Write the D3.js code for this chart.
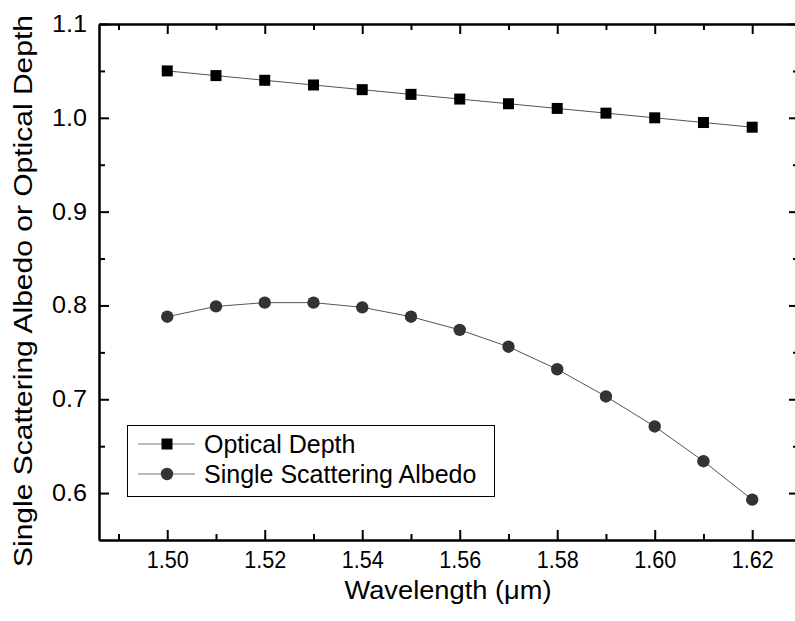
<!DOCTYPE html>
<html>
<head>
<meta charset="utf-8">
<script src="https://cdn.jsdelivr.net/npm/d3@7"></script>
<style>
  body { margin: 0; background: #fff; }
  svg { display: block; font-family: 'Liberation Sans', Arial, sans-serif; }
  .axis path, .axis line { stroke: #000; stroke-width: 2; }
  .axis text { fill: #000; }
</style>
</head>
<body>
<div id="chart"></div>
<script>
// wavelengths (um)
var wavelength = [1.50, 1.51, 1.52, 1.53, 1.54, 1.55, 1.56, 1.57, 1.58, 1.59, 1.60, 1.61, 1.62];
var opticalDepth = [1.050, 1.045, 1.040, 1.035, 1.030, 1.025, 1.020, 1.015, 1.010, 1.005, 1.000, 0.995, 0.990];
var albedo = [0.788, 0.799, 0.803, 0.803, 0.798, 0.788, 0.774, 0.756, 0.732, 0.703, 0.671, 0.634, 0.593];
var xMajorTicks = [1.50, 1.52, 1.54, 1.56, 1.58, 1.60, 1.62];
var xMinorTicks = [1.49, 1.51, 1.53, 1.55, 1.57, 1.59, 1.61];
var yMajorTicks = [0.6, 0.7, 0.8, 0.9, 1.0, 1.1];
var yMinorTicks = [0.65, 0.75, 0.85, 0.95, 1.05];
var seriesNames = ['Optical Depth', 'Single Scattering Albedo'];

var width = 795, height = 621;
// plot frame (right edge sits just past the window)
var frame = {left: 99, right: 799, top: 24, bottom: 540};

var svg = d3.select('#chart').append('svg')
  .attr('width', width)
  .attr('height', height);

// scales
var x = d3.scaleLinear().domain([1.486, 1.6296]).range([frame.left, frame.right]);
var y = d3.scaleLinear().domain([0.55, 1.1]).range([frame.bottom, frame.top]);

// all ticks point inward
function addAxis(axis, tx, ty) {
  return svg.append('g')
    .attr('class', 'axis')
    .attr('transform', 'translate(' + tx + ',' + ty + ')')
    .call(axis);
}

// bottom
var xAxisG = addAxis(d3.axisBottom(x).tickValues(xMajorTicks).tickSizeInner(-10).tickSizeOuter(0)
  .tickPadding(12).tickFormat(d3.format('.2f')), 0, frame.bottom);
addAxis(d3.axisBottom(x).tickValues(xMinorTicks).tickSizeInner(-6).tickSizeOuter(0)
  .tickFormat(''), 0, frame.bottom);
// top
addAxis(d3.axisTop(x).tickValues(xMajorTicks).tickSizeInner(-10).tickSizeOuter(0)
  .tickFormat(''), 0, frame.top);
addAxis(d3.axisTop(x).tickValues(xMinorTicks).tickSizeInner(-6).tickSizeOuter(0)
  .tickFormat(''), 0, frame.top);
// left
var yAxisG = addAxis(d3.axisLeft(y).tickValues(yMajorTicks).tickSizeInner(-10).tickSizeOuter(0)
  .tickPadding(12).tickFormat(d3.format('.1f')), frame.left, 0);
addAxis(d3.axisLeft(y).tickValues(yMinorTicks).tickSizeInner(-6).tickSizeOuter(0)
  .tickFormat(''), frame.left, 0);
// right
addAxis(d3.axisRight(y).tickValues(yMajorTicks).tickSizeInner(-10).tickSizeOuter(0)
  .tickFormat(''), frame.right, 0);
addAxis(d3.axisRight(y).tickValues(yMinorTicks).tickSizeInner(-6).tickSizeOuter(0)
  .tickFormat(''), frame.right, 0);

xAxisG.selectAll('text').style('font-size', '23px')
  .attr('textLength', 42).attr('lengthAdjust', 'spacingAndGlyphs');
yAxisG.selectAll('text').style('font-size', '23px')
  .attr('textLength', 35).attr('lengthAdjust', 'spacingAndGlyphs');

// axis titles
svg.append('text')
  .attr('x', 448)
  .attr('y', 599)
  .attr('text-anchor', 'middle')
  .style('font-size', '26px')
  .attr('textLength', 207)
  .attr('lengthAdjust', 'spacingAndGlyphs')
  .text('Wavelength (\u03bcm)');

svg.append('text')
  .attr('transform', 'translate(32,291) rotate(-90)')
  .attr('text-anchor', 'middle')
  .style('font-size', '25px')
  .attr('textLength', 552)
  .attr('lengthAdjust', 'spacingAndGlyphs')
  .text('Single Scattering Albedo or Optical Depth');

// series lines
var points = function(vals) {
  return wavelength.map(function(w, i) { return {x: w, y: vals[i]}; });
};
var line = d3.line()
  .x(function(d) { return x(d.x); })
  .y(function(d) { return y(d.y); });

var odData = points(opticalDepth);
var alData = points(albedo);

[odData, alData].forEach(function(data) {
  svg.append('path')
    .attr('d', line(data))
    .attr('fill', 'none')
    .attr('stroke', '#555')
    .attr('stroke-width', 1);
});

svg.selectAll('.sq')
  .data(odData)
  .enter().append('rect')
    .attr('class', 'sq')
    .attr('x', function(d) { return x(d.x) - 5.5; })
    .attr('y', function(d) { return y(d.y) - 5.5; })
    .attr('width', 11)
    .attr('height', 11)
    .attr('fill', '#000');

svg.selectAll('.dot')
  .data(alData)
  .enter().append('circle')
    .attr('class', 'dot')
    .attr('cx', function(d) { return x(d.x); })
    .attr('cy', function(d) { return y(d.y); })
    .attr('r', 6.2)
    .attr('fill', '#333');

// legend
var legend = svg.append('g');
legend.append('rect')
  .attr('x', 127.5).attr('y', 425.5)
  .attr('width', 367).attr('height', 71)
  .attr('fill', '#fff')
  .attr('stroke', '#000')
  .attr('stroke-width', 1);

seriesNames.forEach(function(name, i) {
  var ly = 444 + i * 30;
  legend.append('line')
    .attr('x1', 138).attr('x2', 195)
    .attr('y1', ly).attr('y2', ly)
    .attr('stroke', '#777').attr('stroke-width', 1);
  if (i === 0) {
    legend.append('rect')
      .attr('x', 161.5).attr('y', ly - 5.5)
      .attr('width', 11).attr('height', 11)
      .attr('fill', '#000');
  } else {
    legend.append('circle')
      .attr('cx', 167).attr('cy', ly)
      .attr('r', 6.2).attr('fill', '#333');
  }
  legend.append('text')
    .attr('x', 204)
    .attr('y', ly + 9)
    .style('font-size', '25px')
    .text(name);
});
</script>
</body>
</html>
